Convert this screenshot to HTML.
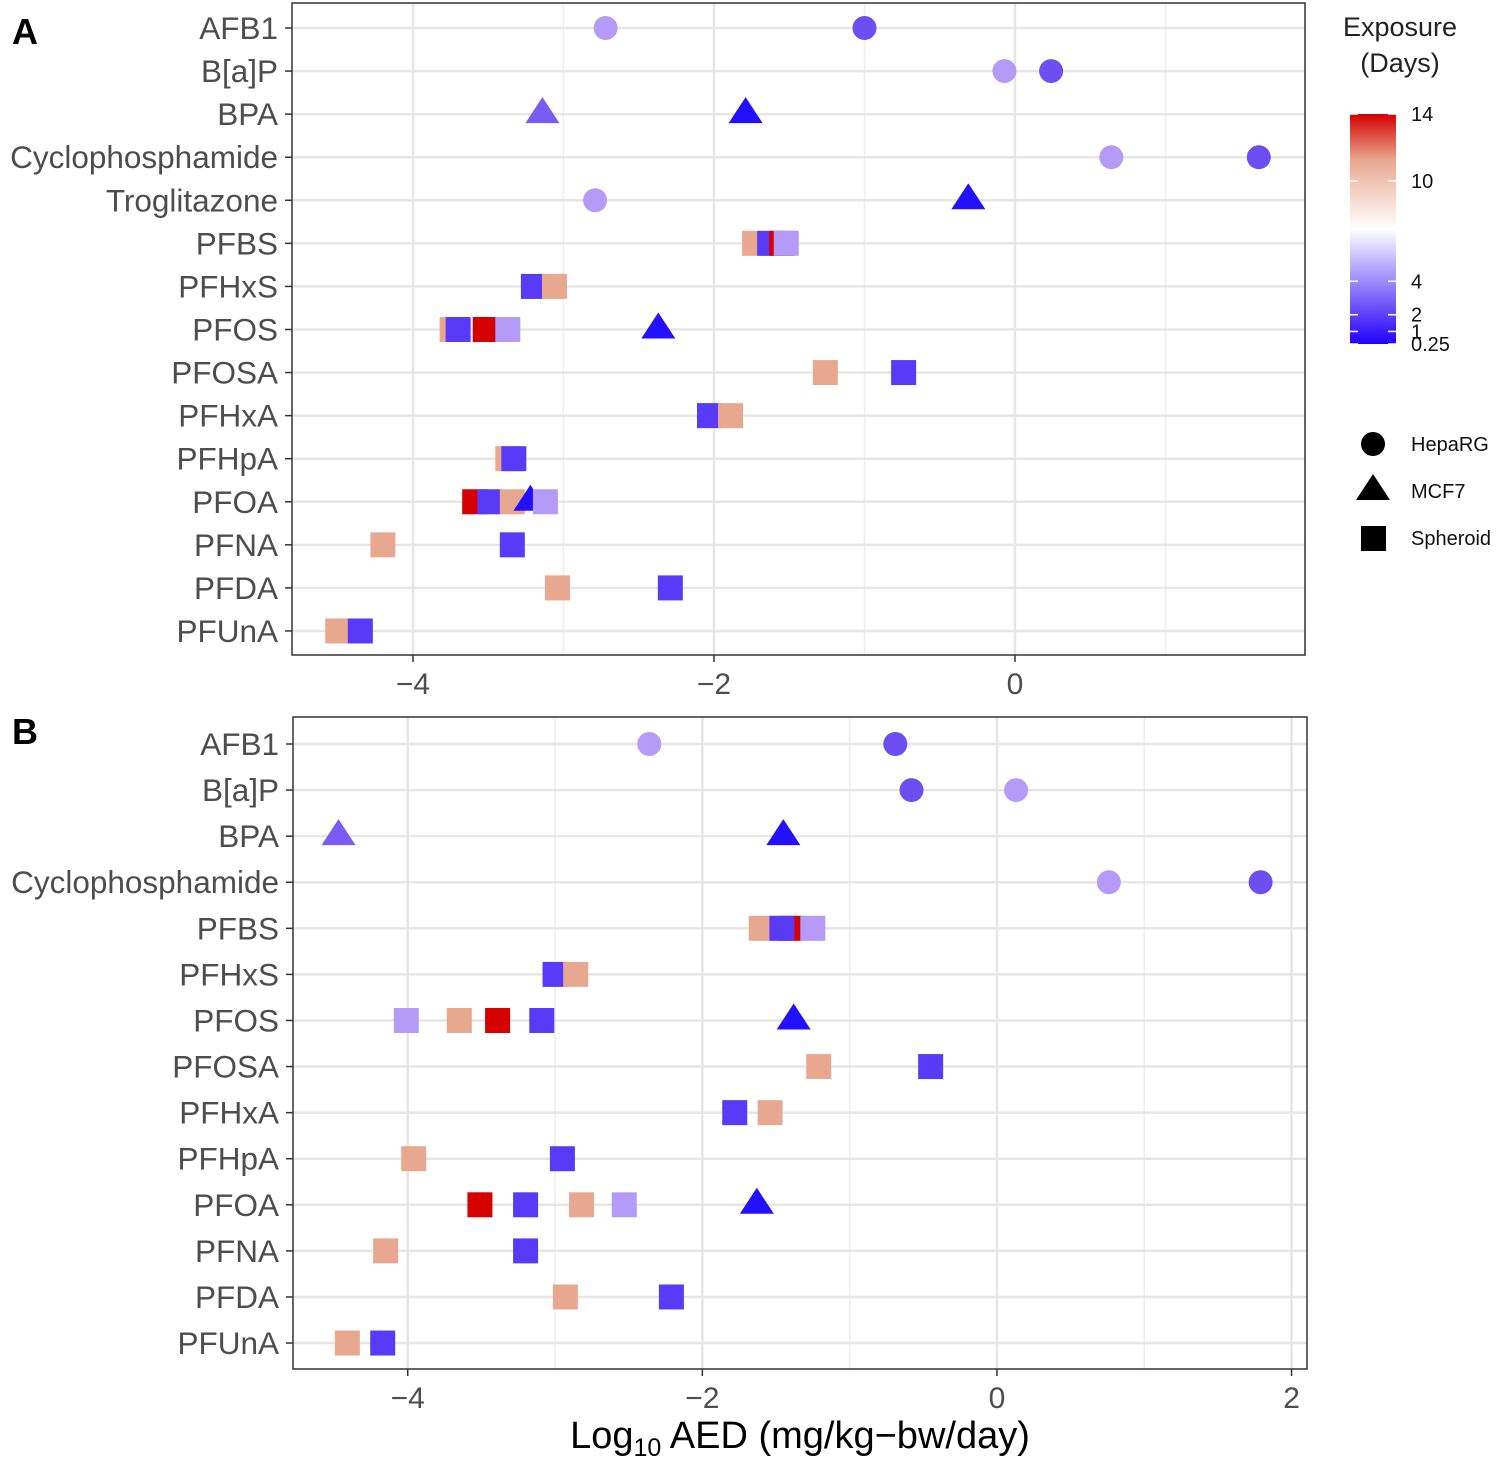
<!DOCTYPE html>
<html><head><meta charset="utf-8">
<style>
html,body{margin:0;padding:0;background:#fff;}
svg{display:block;font-family:"Liberation Sans",Arial,sans-serif;}
</style></head>
<body>
<svg id="chart" width="1500" height="1460" viewBox="0 0 1500 1460" xmlns="http://www.w3.org/2000/svg">
<defs>
<linearGradient id="cbar" x1="0" y1="1" x2="0" y2="0">
<stop offset="0" stop-color="#2200ff"/>
<stop offset="0.12" stop-color="#5a3cf8"/>
<stop offset="0.5" stop-color="#ffffff"/>
<stop offset="0.8" stop-color="#e8a890"/>
<stop offset="1" stop-color="#d40000"/>
</linearGradient>
</defs>
<text x="12" y="44" font-size="36" font-weight="bold">A</text>
<text x="12" y="744" font-size="36" font-weight="bold">B</text>
<g id="pa"></g>
<g id="pb"></g>
<text x="800" y="1448" font-size="38" text-anchor="middle" fill="#000">Log<tspan font-size="25" dy="8">10</tspan><tspan dy="-8"> AED (mg/kg−bw/day)</tspan></text>
<g>
<text x="1400" y="36" font-size="27" text-anchor="middle" fill="#222">Exposure</text>
<text x="1400" y="72" font-size="27" text-anchor="middle" fill="#222">(Days)</text>
<rect x="1350" y="114" width="46" height="230" fill="url(#cbar)"/>
<g id="cbticks"></g>
<circle cx="1373" cy="444" r="12" fill="#000"/>
<text x="1411" y="451" font-size="20" fill="#111">HepaRG</text>
<polygon points="1373,474 1390,500 1356,500" fill="#000"/>
<text x="1411" y="498" font-size="20" fill="#111">MCF7</text>
<rect x="1361" y="526" width="25" height="25" fill="#000"/>
<text x="1411" y="545" font-size="20" fill="#111">Spheroid</text>
</g>
</svg>
<script>
const NS="http://www.w3.org/2000/svg";
const rowsA=["AFB1","B[a]P","BPA","Cyclophosphamide","Troglitazone","PFBS","PFHxS","PFOS","PFOSA","PFHxA","PFHpA","PFOA","PFNA","PFDA","PFUnA"];
const rowsB=["AFB1","B[a]P","BPA","Cyclophosphamide","PFBS","PFHxS","PFOS","PFOSA","PFHxA","PFHpA","PFOA","PFNA","PFDA","PFUnA"];
const cbTicks=[14,10,4,2,1,0.25];
const aChem=["AFB1","AFB1","B[a]P","B[a]P","BPA","BPA","Cyclophosphamide","Cyclophosphamide","Troglitazone","Troglitazone",
"PFBS","PFBS","PFBS","PFBS","PFHxS","PFHxS","PFOS","PFOS","PFOS","PFOS","PFOS","PFOSA","PFOSA","PFHxA","PFHxA","PFHpA","PFHpA",
"PFOA","PFOA","PFOA","PFOA","PFOA","PFNA","PFNA","PFDA","PFDA","PFUnA","PFUnA"];
const aVal=[-2.72,-1.0,-0.07,0.24,-3.14,-1.79,0.64,1.62,-2.79,-0.31,
-1.73,-1.63,-1.55,-1.52,-3.20,-3.06,-3.74,-3.70,-3.52,-3.37,-2.37,-1.26,-0.74,-2.03,-1.89,-3.37,-3.33,
-3.59,-3.49,-3.34,-3.22,-3.12,-4.20,-3.34,-3.04,-2.29,-4.50,-4.35];
const aDays=[4,2,4,2,2.5,0.25,4,2,4,0.25,
10,1,14,4,1,10,10,1,14,4,0.25,10,1,1,10,10,1,
14,1,10,0.25,4,10,1,10,1,10,1];
const aModel=["HepaRG","HepaRG","HepaRG","HepaRG","MCF7","MCF7","HepaRG","HepaRG","HepaRG","MCF7",
"Spheroid","Spheroid","Spheroid","Spheroid","Spheroid","Spheroid","Spheroid","Spheroid","Spheroid","Spheroid","MCF7","Spheroid","Spheroid","Spheroid","Spheroid","Spheroid","Spheroid",
"Spheroid","Spheroid","Spheroid","MCF7","Spheroid","Spheroid","Spheroid","Spheroid","Spheroid","Spheroid","Spheroid"];
const bChem=["AFB1","AFB1","B[a]P","B[a]P","BPA","BPA","Cyclophosphamide","Cyclophosphamide",
"PFBS","PFBS","PFBS","PFBS","PFHxS","PFHxS","PFOS","PFOS","PFOS","PFOS","PFOS","PFOSA","PFOSA","PFHxA","PFHxA","PFHpA","PFHpA",
"PFOA","PFOA","PFOA","PFOA","PFOA","PFNA","PFNA","PFDA","PFDA","PFUnA","PFUnA"];
const bVal=[-2.36,-0.69,-0.58,0.13,-4.47,-1.45,0.76,1.79,
-1.60,-1.40,-1.46,-1.25,-3.00,-2.86,-4.01,-3.65,-3.39,-3.09,-1.38,-1.21,-0.45,-1.78,-1.54,-3.96,-2.95,
-3.51,-3.20,-2.82,-2.53,-1.63,-4.15,-3.20,-2.93,-2.21,-4.41,-4.17];
const bDays=[4,2,2,4,2.5,0.25,4,2,
10,14,1,4,1,10,4,10,14,1,0.25,10,1,1,10,10,1,
14,1,10,4,0.25,10,1,10,1,10,1];
const bModel=["HepaRG","HepaRG","HepaRG","HepaRG","MCF7","MCF7","HepaRG","HepaRG",
"Spheroid","Spheroid","Spheroid","Spheroid","Spheroid","Spheroid","Spheroid","Spheroid","Spheroid","Spheroid","MCF7","Spheroid","Spheroid","Spheroid","Spheroid","Spheroid","Spheroid",
"Spheroid","Spheroid","Spheroid","Spheroid","MCF7","Spheroid","Spheroid","Spheroid","Spheroid","Spheroid","Spheroid"];
const aTicks=[-4,-2,0], aMinor=[-3,-1,1];
const bTicks=[-4,-2,0,2], bMinor=[-3,-1,1];

function dayColor(d){
  const stops=[[0.25,[34,16,255]],[1,[88,58,248]],[2,[108,78,242]],[2.5,[122,92,245]],[4,[179,155,247]],[7,[255,255,255]],[10,[232,168,144]],[14,[214,0,0]]];
  for(let i=0;i<stops.length-1;i++){
    const a=stops[i],b=stops[i+1];
    if(d>=a[0]&&d<=b[0]){const t=(d-a[0])/(b[0]-a[0]);
      const c=a[1].map((v,k)=>Math.round(v+(b[1][k]-v)*t));return `rgb(${c})`;}
  }
  return d<0.25?"rgb(34,16,255)":"rgb(214,0,0)";
}
function el(tag,attrs,parent){const e=document.createElementNS(NS,tag);for(const k in attrs)e.setAttribute(k,attrs[k]);parent.appendChild(e);return e;}

function panel(g,cfg){
  const {left,right,top,bottom,xmin,xmax,rows,y0,yStep,ticks,minor,chem,val,days,model,name}=cfg;
  const xs=v=>left+(v-xmin)/(xmax-xmin)*(right-left);
  const ys=c=>y0+rows.indexOf(c)*yStep;
  minor.forEach(t=>{const l=el("line",{x1:xs(t),x2:xs(t),y1:top,y2:bottom,stroke:"#eeeeee","stroke-width":1.5},g);
    });
  ticks.forEach(t=>{const l=el("line",{x1:xs(t),x2:xs(t),y1:top,y2:bottom,stroke:"#e6e6e6","stroke-width":2.5},g);
    });
  rows.forEach(r=>{const l=el("line",{x1:left,x2:right,y1:ys(r),y2:ys(r),stroke:"#e6e6e6","stroke-width":2.5},g);
    
    const tk=el("line",{x1:left-7,x2:left,y1:ys(r),y2:ys(r),stroke:"#333","stroke-width":1.5},g);
    
    const t=el("text",{x:left-14,y:ys(r)+11,"font-size":31.5,"text-anchor":"end",fill:"#4d4d4d"},g);
    t.textContent=r;
    });
  for(let i=0;i<chem.length;i++){
    const x=xs(val[i]),y=ys(chem[i]),c=dayColor(days[i]);let m;
    if(model[i]==="HepaRG")m=el("circle",{cx:x,cy:y,r:12,fill:c},g);
    else if(model[i]==="MCF7")m=el("polygon",{points:`${x},${y-17} ${x+17},${y+9} ${x-17},${y+9}`,fill:c},g);
    else m=el("rect",{x:x-12.5,y:y-12.5,width:25,height:25,fill:c},g);
    
    
  }
  const fr=el("rect",{x:left,y:top,width:right-left,height:bottom-top,fill:"none",stroke:"#333","stroke-width":1.5},g);
  
  ticks.forEach(t=>{const tk=el("line",{x1:xs(t),x2:xs(t),y1:bottom,y2:bottom+7,stroke:"#333","stroke-width":1.5},g);
    
    const tx=el("text",{x:xs(t),y:bottom+39,"font-size":30,"text-anchor":"middle",fill:"#4d4d4d"},g);
    tx.textContent=(t<0?"−":"")+Math.abs(t);
    });
}
panel(document.getElementById("pa"),{left:292,right:1305,top:3,bottom:655,xmin:-4.804,xmax:1.927,rows:rowsA,y0:28,yStep:43.07,ticks:aTicks,minor:aMinor,chem:aChem,val:aVal,days:aDays,model:aModel,name:"panel-a"});
panel(document.getElementById("pb"),{left:293,right:1307,top:717,bottom:1369,xmin:-4.779,xmax:2.105,rows:rowsB,y0:744,yStep:46.08,ticks:bTicks,minor:bMinor,chem:bChem,val:bVal,days:bDays,model:bModel,name:"panel-b"});

const cb=document.getElementById("cbticks");
const cy=d=>344-(d-0.25)/(14-0.25)*230;
cbTicks.forEach(d=>{
  const y=cy(d);
  const a=el("line",{x1:1350,x2:1358,y1:y,y2:y,stroke:"#fff","stroke-width":1.5},cb);
  
  const b=el("line",{x1:1388,x2:1396,y1:y,y2:y,stroke:"#fff","stroke-width":1.5},cb);
  
  const t=el("text",{x:1411,y:y+7,"font-size":20,fill:"#111"},cb);
  t.textContent=String(d);
  
});
</script>
</body></html>
